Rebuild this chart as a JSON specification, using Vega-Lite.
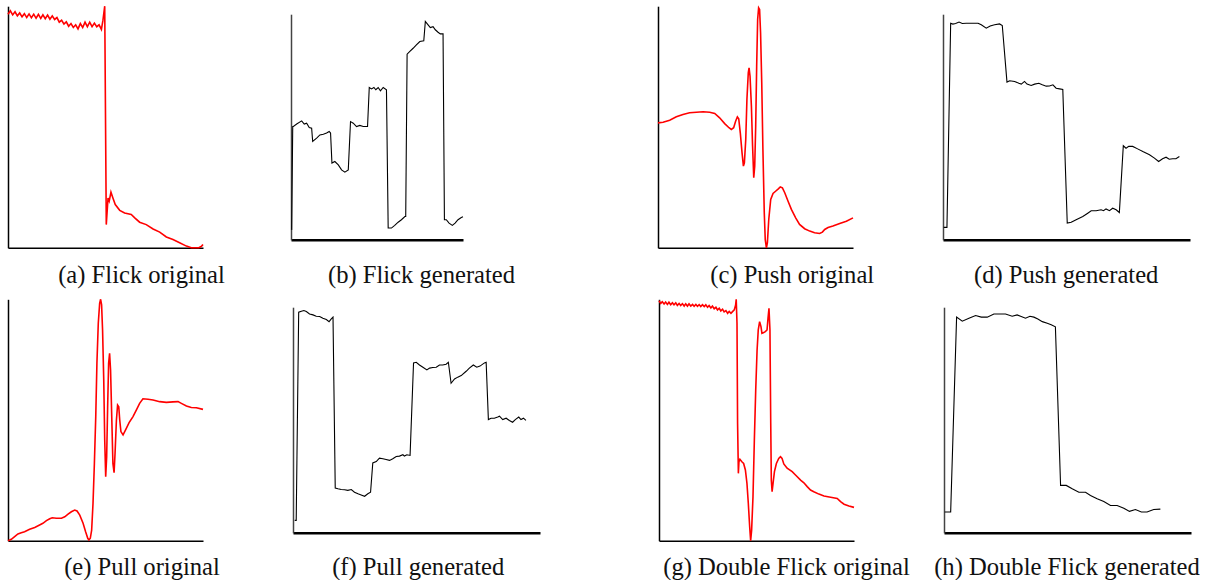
{
  "$schema": "https://vega.github.io/schema/vega-lite/v6.json",
  "padding": {"left": 4, "top": 3, "right": 0, "bottom": 0},
  "background": "white",
  "config": {
    "view": {"stroke": null},
    "axis": {
      "ticks": false, "labels": false, "grid": false,
      "domainColor": "#000000", "domainWidth": 1.5,
      "titleFont": "Liberation Serif", "titleFontSize": 24.6, "titleFontWeight": "normal",
      "titleColor": "#111111", "titleAlign": "center", "titleBaseline": "alphabetic", "titlePadding": 0
    }
  },
  "datasets": {
    "a": [{"t":0,"v":96.7},{"t":1.2,"v":98.1},{"t":2.4,"v":96.4},{"t":3.6,"v":97.7},{"t":4.8,"v":96.0},{"t":6.0,"v":97.2},{"t":7.2,"v":95.6},{"t":8.4,"v":96.9},{"t":9.6,"v":95.3},{"t":10.8,"v":96.8},{"t":12.0,"v":95.2},{"t":13.2,"v":96.7},{"t":14.4,"v":95.0},{"t":15.6,"v":96.6},{"t":16.8,"v":94.9},{"t":17.9,"v":96.4},{"t":19.1,"v":94.8},{"t":20.3,"v":96.3},{"t":21.5,"v":94.6},{"t":22.7,"v":96.0},{"t":23.9,"v":94.5},{"t":25.1,"v":95.3},{"t":26.3,"v":93.4},{"t":27.5,"v":94.2},{"t":28.7,"v":92.6},{"t":29.9,"v":93.5},{"t":31.1,"v":91.7},{"t":32.3,"v":92.8},{"t":33.5,"v":91.2},{"t":34.7,"v":92.3},{"t":35.9,"v":90.6},{"t":37.1,"v":92.8},{"t":38.3,"v":91.2},{"t":39.5,"v":93.4},{"t":40.7,"v":91.5},{"t":41.9,"v":93.4},{"t":43.1,"v":91.5},{"t":44.3,"v":93.0},{"t":45.5,"v":91.5},{"t":46.7,"v":92.3},{"t":47.9,"v":90.4},{"t":48.7,"v":94.2},{"t":49.6,"v":100},{"t":50.4,"v":9.6},{"t":51.3,"v":20.6},{"t":51.9,"v":19.3},{"t":52.8,"v":23.0},{"t":53.8,"v":20.6},{"t":55.0,"v":17.9},{"t":57.3,"v":15.5},{"t":59.8,"v":14.4},{"t":63.2,"v":13.8},{"t":65.0,"v":12.4},{"t":67.5,"v":10.6},{"t":70.9,"v":9.6},{"t":74.4,"v":7.8},{"t":77.8,"v":6.5},{"t":81.2,"v":4.5},{"t":84.6,"v":3.4},{"t":88.0,"v":2.1},{"t":91.5,"v":0.7},{"t":94.0,"v":0},{"t":97.9,"v":0},{"t":99.3,"v":0.7},{"t":100,"v":1.4}],
    "b": [{"t":0.4,"v":4.4},{"t":1.0,"v":50.2},{"t":1.4,"v":50.2},{"t":3.3,"v":51.3},{"t":6.2,"v":52.7},{"t":7.7,"v":51.3},{"t":9.1,"v":51.7},{"t":10.6,"v":49.8},{"t":12.0,"v":49.5},{"t":12.6,"v":43.6},{"t":14.9,"v":45.1},{"t":16.8,"v":46.5},{"t":18.8,"v":46.8},{"t":20.7,"v":47.3},{"t":22.2,"v":48.0},{"t":23.0,"v":47.3},{"t":23.8,"v":34.0},{"t":25.5,"v":34.7},{"t":27.5,"v":33.2},{"t":29.4,"v":31.0},{"t":31.3,"v":30.0},{"t":33.3,"v":31.0},{"t":34.6,"v":52.4},{"t":36.2,"v":51.7},{"t":38.1,"v":50.2},{"t":40.0,"v":50.7},{"t":42.0,"v":50.2},{"t":44.5,"v":50.2},{"t":45.5,"v":67.5},{"t":46.8,"v":66.9},{"t":48.2,"v":67.5},{"t":49.3,"v":66.5},{"t":50.7,"v":67.5},{"t":52.0,"v":66.0},{"t":53.6,"v":67.5},{"t":55.5,"v":66.5},{"t":56.5,"v":5.2},{"t":58.4,"v":5.2},{"t":60.3,"v":6.4},{"t":62.3,"v":7.8},{"t":64.2,"v":8.9},{"t":66.2,"v":10.3},{"t":66.7,"v":10.3},{"t":67.5,"v":82.3},{"t":69.1,"v":83.5},{"t":71.0,"v":84.9},{"t":72.9,"v":86.4},{"t":74.9,"v":87.9},{"t":77.2,"v":88.2},{"t":78.1,"v":96.8},{"t":79.7,"v":95.3},{"t":81.0,"v":94.1},{"t":82.6,"v":94.5},{"t":83.9,"v":93.1},{"t":85.5,"v":92.0},{"t":86.8,"v":91.3},{"t":88.4,"v":91.3},{"t":89.2,"v":8.9},{"t":90.3,"v":8.9},{"t":91.9,"v":7.4},{"t":93.8,"v":6.4},{"t":95.4,"v":7.4},{"t":97.1,"v":8.9},{"t":99.0,"v":9.9},{"t":100,"v":10.2}],
    "c": [{"t":0,"v":51.7},{"t":2.6,"v":52.0},{"t":6.0,"v":52.8},{"t":9.4,"v":54.2},{"t":12.8,"v":55.2},{"t":16.2,"v":55.9},{"t":19.7,"v":56.1},{"t":23.1,"v":56.3},{"t":26.5,"v":56.1},{"t":29.1,"v":55.6},{"t":31.6,"v":53.8},{"t":34.2,"v":51.4},{"t":36.4,"v":49.7},{"t":37.6,"v":49.0},{"t":38.8,"v":49.7},{"t":39.8,"v":52.4},{"t":40.7,"v":54.2},{"t":41.4,"v":53.4},{"t":42.2,"v":47.6},{"t":43.1,"v":39.3},{"t":43.8,"v":33.8},{"t":44.3,"v":35.2},{"t":45.0,"v":44.8},{"t":45.6,"v":61.4},{"t":46.3,"v":72.4},{"t":46.7,"v":74.5},{"t":47.2,"v":71.0},{"t":47.9,"v":58.6},{"t":48.5,"v":42.1},{"t":49.1,"v":29.0},{"t":49.6,"v":33.8},{"t":50.1,"v":50.3},{"t":50.6,"v":75.2},{"t":51.1,"v":94.5},{"t":51.6,"v":99.3},{"t":52.1,"v":98.6},{"t":52.6,"v":89.0},{"t":53.2,"v":68.3},{"t":53.8,"v":40.7},{"t":54.5,"v":14.5},{"t":55.0,"v":3.4},{"t":55.6,"v":0},{"t":56.1,"v":2.1},{"t":56.8,"v":11.7},{"t":57.8,"v":20.0},{"t":59.0,"v":22.5},{"t":60.3,"v":23.4},{"t":61.7,"v":24.4},{"t":62.7,"v":25.2},{"t":63.8,"v":24.8},{"t":65.0,"v":22.8},{"t":66.7,"v":19.3},{"t":68.4,"v":15.9},{"t":70.6,"v":12.4},{"t":72.6,"v":9.7},{"t":75.2,"v":7.9},{"t":77.8,"v":6.9},{"t":80.3,"v":6.2},{"t":82.9,"v":5.9},{"t":84.3,"v":6.5},{"t":85.5,"v":7.6},{"t":87.2,"v":8.4},{"t":89.7,"v":9.0},{"t":93.2,"v":10.1},{"t":96.6,"v":11.0},{"t":100,"v":12.4}],
    "d": [{"t":0.3,"v":5.5},{"t":1.6,"v":5.5},{"t":3.1,"v":96.0},{"t":4.0,"v":95.6},{"t":5.1,"v":95.9},{"t":6.5,"v":96.5},{"t":7.8,"v":95.9},{"t":9.4,"v":96.0},{"t":12.1,"v":96.0},{"t":14.2,"v":96.0},{"t":15.5,"v":95.3},{"t":17.5,"v":93.8},{"t":19.1,"v":94.8},{"t":20.9,"v":95.3},{"t":22.9,"v":95.7},{"t":24.0,"v":95.0},{"t":25.9,"v":69.9},{"t":27.0,"v":70.5},{"t":29.0,"v":70.2},{"t":30.7,"v":69.4},{"t":31.7,"v":69.0},{"t":33.0,"v":70.2},{"t":34.0,"v":69.0},{"t":35.7,"v":68.4},{"t":37.1,"v":69.0},{"t":38.8,"v":69.4},{"t":40.2,"v":68.7},{"t":41.8,"v":68.1},{"t":43.1,"v":68.2},{"t":44.5,"v":68.7},{"t":45.8,"v":67.2},{"t":47.2,"v":66.9},{"t":48.5,"v":66.6},{"t":50.3,"v":7.4},{"t":51.9,"v":7.8},{"t":53.9,"v":8.9},{"t":56.6,"v":10.3},{"t":58.6,"v":11.8},{"t":60.0,"v":12.9},{"t":62.0,"v":12.9},{"t":64.0,"v":13.3},{"t":65.0,"v":12.9},{"t":66.0,"v":13.7},{"t":67.4,"v":12.9},{"t":68.7,"v":14.0},{"t":70.1,"v":13.3},{"t":71.4,"v":12.1},{"t":73.0,"v":41.7},{"t":74.1,"v":40.6},{"t":75.2,"v":41.4},{"t":76.8,"v":41.4},{"t":78.8,"v":40.3},{"t":80.9,"v":39.1},{"t":83.6,"v":37.7},{"t":85.6,"v":36.2},{"t":87.3,"v":34.7},{"t":88.9,"v":35.9},{"t":90.3,"v":36.6},{"t":91.6,"v":35.7},{"t":93.0,"v":35.9},{"t":94.3,"v":35.9},{"t":95.7,"v":36.9}],
    "e": [{"t":0,"v":0},{"t":1.7,"v":0.6},{"t":3.4,"v":1.7},{"t":5.1,"v":2.8},{"t":6.8,"v":3.3},{"t":8.5,"v":3.7},{"t":11.1,"v":4.7},{"t":13.7,"v":5.5},{"t":16.2,"v":6.5},{"t":17.9,"v":7.2},{"t":19.7,"v":8.3},{"t":21.4,"v":9.1},{"t":22.7,"v":9.5},{"t":24.8,"v":9.3},{"t":27.4,"v":9.3},{"t":29.1,"v":9.9},{"t":30.8,"v":11.0},{"t":32.5,"v":12.0},{"t":34.2,"v":12.7},{"t":35.4,"v":12.3},{"t":36.8,"v":10.6},{"t":38.5,"v":7.2},{"t":39.8,"v":3.7},{"t":40.9,"v":1.0},{"t":41.5,"v":0.3},{"t":42.2,"v":1.0},{"t":42.9,"v":4.4},{"t":43.6,"v":15.5},{"t":44.3,"v":32.0},{"t":45.0,"v":51.4},{"t":45.6,"v":73.5},{"t":46.3,"v":90.1},{"t":47.0,"v":98.3},{"t":47.5,"v":100},{"t":48.0,"v":97.7},{"t":48.5,"v":87.3},{"t":49.1,"v":66.6},{"t":49.6,"v":41.7},{"t":50.1,"v":26.5},{"t":50.6,"v":34.8},{"t":51.1,"v":55.5},{"t":51.6,"v":73.5},{"t":52.1,"v":77.6},{"t":52.6,"v":70.7},{"t":53.2,"v":51.4},{"t":53.8,"v":32.0},{"t":54.4,"v":28.2},{"t":54.9,"v":36.2},{"t":55.6,"v":50.0},{"t":56.2,"v":56.2},{"t":56.8,"v":55.5},{"t":57.3,"v":50.0},{"t":57.9,"v":45.2},{"t":59.0,"v":43.8},{"t":60.3,"v":45.9},{"t":62.1,"v":48.9},{"t":64.1,"v":51.4},{"t":65.8,"v":54.1},{"t":67.5,"v":56.9},{"t":69.2,"v":58.8},{"t":71.8,"v":58.6},{"t":74.4,"v":58.3},{"t":77.8,"v":57.6},{"t":81.2,"v":57.3},{"t":84.6,"v":57.5},{"t":87.2,"v":57.6},{"t":88.9,"v":56.9},{"t":91.5,"v":55.8},{"t":94.0,"v":55.2},{"t":96.6,"v":55.1},{"t":100,"v":54.4}],
    "f": [{"t":0.7,"v":5.5},{"t":1.3,"v":5.5},{"t":2.3,"v":97.8},{"t":3.4,"v":98.2},{"t":4.4,"v":98.5},{"t":5.4,"v":98.1},{"t":6.7,"v":97.0},{"t":8.1,"v":96.6},{"t":9.4,"v":96.0},{"t":10.8,"v":95.9},{"t":12.1,"v":95.1},{"t":13.5,"v":94.5},{"t":14.6,"v":93.6},{"t":15.5,"v":94.8},{"t":16.2,"v":95.6},{"t":17.1,"v":19.8},{"t":18.2,"v":19.5},{"t":19.5,"v":19.2},{"t":20.9,"v":19.1},{"t":22.2,"v":18.8},{"t":23.6,"v":19.2},{"t":24.9,"v":18.0},{"t":26.3,"v":17.3},{"t":27.6,"v":16.8},{"t":29.0,"v":16.2},{"t":30.3,"v":17.3},{"t":31.4,"v":18.0},{"t":32.3,"v":31.0},{"t":33.7,"v":31.6},{"t":35.0,"v":33.1},{"t":36.4,"v":32.8},{"t":37.7,"v":32.5},{"t":39.1,"v":32.1},{"t":40.4,"v":32.8},{"t":41.8,"v":33.8},{"t":43.1,"v":34.0},{"t":44.5,"v":34.6},{"t":45.1,"v":34.0},{"t":46.1,"v":34.6},{"t":47.4,"v":34.3},{"t":48.8,"v":75.3},{"t":49.9,"v":75.6},{"t":51.2,"v":74.4},{"t":52.6,"v":73.4},{"t":54.2,"v":72.2},{"t":55.3,"v":73.0},{"t":56.6,"v":73.3},{"t":58.0,"v":73.4},{"t":59.3,"v":74.4},{"t":60.6,"v":74.4},{"t":62.0,"v":74.7},{"t":62.9,"v":75.6},{"t":64.0,"v":66.3},{"t":65.4,"v":68.2},{"t":66.7,"v":69.0},{"t":68.1,"v":69.7},{"t":70.1,"v":71.6},{"t":71.4,"v":73.0},{"t":73.0,"v":74.4},{"t":74.4,"v":73.4},{"t":75.7,"v":73.9},{"t":77.5,"v":75.3},{"t":78.2,"v":75.6},{"t":79.1,"v":50.2},{"t":80.2,"v":50.8},{"t":81.5,"v":50.8},{"t":82.9,"v":51.3},{"t":83.6,"v":51.7},{"t":84.9,"v":50.2},{"t":86.3,"v":50.8},{"t":87.6,"v":49.8},{"t":88.9,"v":49.0},{"t":90.0,"v":50.2},{"t":91.4,"v":51.3},{"t":92.3,"v":50.2},{"t":93.3,"v":50.8},{"t":94.3,"v":49.8}],
    "g": [{"t":0,"v":99.4},{"t":0.9,"v":98.3},{"t":1.7,"v":99.0},{"t":2.6,"v":98.1},{"t":3.4,"v":98.9},{"t":4.3,"v":97.9},{"t":5.1,"v":98.8},{"t":6.0,"v":97.8},{"t":6.9,"v":98.6},{"t":7.7,"v":97.7},{"t":8.6,"v":98.5},{"t":9.4,"v":97.5},{"t":10.3,"v":98.3},{"t":11.1,"v":97.4},{"t":12.0,"v":98.2},{"t":12.9,"v":97.2},{"t":13.7,"v":98.1},{"t":14.6,"v":97.2},{"t":15.4,"v":98.1},{"t":16.3,"v":97.2},{"t":17.2,"v":97.9},{"t":18.0,"v":97.1},{"t":18.9,"v":97.9},{"t":19.7,"v":97.1},{"t":20.6,"v":97.8},{"t":21.4,"v":97.0},{"t":22.3,"v":97.8},{"t":23.2,"v":97.0},{"t":24.0,"v":97.7},{"t":24.9,"v":96.7},{"t":25.7,"v":97.4},{"t":26.6,"v":96.4},{"t":27.4,"v":97.2},{"t":28.3,"v":96.1},{"t":29.2,"v":96.7},{"t":30.0,"v":95.6},{"t":30.9,"v":96.3},{"t":31.7,"v":95.2},{"t":32.6,"v":95.9},{"t":33.4,"v":94.8},{"t":34.3,"v":95.3},{"t":35.2,"v":94.2},{"t":36.0,"v":95.0},{"t":36.9,"v":94.2},{"t":37.7,"v":94.9},{"t":38.6,"v":95.6},{"t":39.3,"v":97.7},{"t":39.6,"v":100},{"t":40.0,"v":90.1},{"t":40.3,"v":48.6},{"t":40.7,"v":27.9},{"t":41.0,"v":32.7},{"t":41.5,"v":33.7},{"t":42.5,"v":32.7},{"t":43.4,"v":32.0},{"t":44.3,"v":29.3},{"t":45.1,"v":23.8},{"t":45.8,"v":15.5},{"t":46.5,"v":5.8},{"t":47.0,"v":0},{"t":47.5,"v":4.4},{"t":48.2,"v":18.2},{"t":48.9,"v":41.7},{"t":49.6,"v":62.4},{"t":50.3,"v":79.0},{"t":50.9,"v":87.3},{"t":51.6,"v":90.7},{"t":52.3,"v":88.7},{"t":52.8,"v":85.9},{"t":53.7,"v":86.2},{"t":54.5,"v":86.6},{"t":55.4,"v":87.3},{"t":55.9,"v":92.1},{"t":56.4,"v":96.3},{"t":56.9,"v":87.3},{"t":57.3,"v":48.6},{"t":57.6,"v":25.1},{"t":58.0,"v":20.3},{"t":58.5,"v":23.8},{"t":59.2,"v":28.6},{"t":60.2,"v":32.0},{"t":61.4,"v":34.1},{"t":62.3,"v":34.8},{"t":63.1,"v":34.1},{"t":64.0,"v":31.8},{"t":65.7,"v":30.0},{"t":68.3,"v":28.6},{"t":70.0,"v":27.2},{"t":72.6,"v":25.1},{"t":74.3,"v":24.0},{"t":76.0,"v":22.4},{"t":77.7,"v":21.0},{"t":79.4,"v":20.3},{"t":82.0,"v":19.3},{"t":84.6,"v":18.5},{"t":88.0,"v":18.0},{"t":91.4,"v":17.5},{"t":93.1,"v":16.2},{"t":94.9,"v":15.1},{"t":97.4,"v":14.4},{"t":100,"v":13.8}],
    "h": [{"t":0.3,"v":9.2},{"t":2.7,"v":9.2},{"t":5.1,"v":95.6},{"t":7.4,"v":93.8},{"t":10.1,"v":95.1},{"t":12.8,"v":96.3},{"t":15.1,"v":95.6},{"t":17.5,"v":95.6},{"t":20.2,"v":97.0},{"t":22.9,"v":97.0},{"t":24.9,"v":97.0},{"t":27.6,"v":96.0},{"t":29.6,"v":96.6},{"t":31.0,"v":96.0},{"t":33.0,"v":95.1},{"t":34.8,"v":96.0},{"t":36.4,"v":95.6},{"t":38.0,"v":94.8},{"t":39.8,"v":93.6},{"t":41.8,"v":92.9},{"t":43.4,"v":92.2},{"t":45.1,"v":91.3},{"t":47.2,"v":21.0},{"t":49.5,"v":21.0},{"t":51.9,"v":19.5},{"t":54.6,"v":18.0},{"t":57.3,"v":18.0},{"t":59.3,"v":16.5},{"t":62.0,"v":15.1},{"t":64.7,"v":13.9},{"t":67.4,"v":12.1},{"t":70.1,"v":12.1},{"t":72.8,"v":10.9},{"t":75.1,"v":9.5},{"t":77.5,"v":10.3},{"t":79.9,"v":9.2},{"t":82.2,"v":9.2},{"t":84.9,"v":10.3},{"t":87.6,"v":10.5}],
    "blank": [{"k": 0}]
  },
  "spacing": 9,
  "vconcat": [
    {
      "spacing": 0, "bounds": "flush", "center": true,
      "hconcat": [
        {"width": 195, "height": 241.6, "data": {"name": "a"}, "mark": {"type": "line", "color": "#ff0000", "strokeWidth": 1.6},
         "encoding": {"x": {"field": "t", "type": "quantitative", "scale": {"domain": [0, 100], "nice": false, "zero": false}, "axis": {"title": "(a) Flick original", "titleX": 133, "titleY": 34.4}},
                      "y": {"field": "v", "type": "quantitative", "scale": {"domain": [0, 100], "nice": false, "zero": false}, "axis": {"title": null}}}},
        {"width": 87.7, "height": 10, "data": {"name": "blank"}, "mark": {"type": "point", "opacity": 0}, "encoding": {}},
        {"width": 172, "height": 225.6, "data": {"name": "b"}, "mark": {"type": "line", "color": "#000000", "strokeWidth": 1.1},
         "encoding": {"x": {"field": "t", "type": "quantitative", "scale": {"domain": [0, 100], "nice": false, "zero": false}, "axis": {"title": "(b) Flick generated", "titleX": 130, "titleY": 42.4, "domainWidth": 2.5}},
                      "y": {"field": "v", "type": "quantitative", "scale": {"domain": [0, 100], "nice": false, "zero": false}, "axis": {"title": null, "domainColor": "#444444"}}}},
        {"width": 195, "height": 10, "data": {"name": "blank"}, "mark": {"type": "point", "opacity": 0}, "encoding": {}},
        {"width": 195, "height": 241.6, "data": {"name": "c"}, "mark": {"type": "line", "color": "#ff0000", "strokeWidth": 1.6},
         "encoding": {"x": {"field": "t", "type": "quantitative", "scale": {"domain": [0, 100], "nice": false, "zero": false}, "axis": {"title": "(c) Push original", "titleX": 133.7, "titleY": 34.4}},
                      "y": {"field": "v", "type": "quantitative", "scale": {"domain": [0, 100], "nice": false, "zero": false}, "axis": {"title": null}}}},
        {"width": 90, "height": 10, "data": {"name": "blank"}, "mark": {"type": "point", "opacity": 0}, "encoding": {}},
        {"width": 247, "height": 225.6, "data": {"name": "d"}, "mark": {"type": "line", "color": "#000000", "strokeWidth": 1.1},
         "encoding": {"x": {"field": "t", "type": "quantitative", "scale": {"domain": [0, 100], "nice": false, "zero": false}, "axis": {"title": "(d) Push generated", "titleX": 122.7, "titleY": 42.4, "domainWidth": 2.5}},
                      "y": {"field": "v", "type": "quantitative", "scale": {"domain": [0, 100], "nice": false, "zero": false}, "axis": {"title": null, "domainColor": "#444444"}}}}
      ]
    },
    {
      "spacing": 0, "bounds": "flush", "center": true,
      "hconcat": [
        {"width": 195, "height": 241.4, "data": {"name": "e"}, "mark": {"type": "line", "color": "#ff0000", "strokeWidth": 1.6},
         "encoding": {"x": {"field": "t", "type": "quantitative", "scale": {"domain": [0, 100], "nice": false, "zero": false}, "axis": {"title": "(e) Pull original", "titleX": 133.5, "titleY": 34}},
                      "y": {"field": "v", "type": "quantitative", "scale": {"domain": [0, 100], "nice": false, "zero": false}, "axis": {"title": null}}}},
        {"width": 90, "height": 10, "data": {"name": "blank"}, "mark": {"type": "point", "opacity": 0}, "encoding": {}},
        {"width": 247, "height": 225.6, "data": {"name": "f"}, "mark": {"type": "line", "color": "#000000", "strokeWidth": 1.1},
         "encoding": {"x": {"field": "t", "type": "quantitative", "scale": {"domain": [0, 100], "nice": false, "zero": false}, "axis": {"title": "(f) Pull generated", "titleX": 124.7, "titleY": 42, "domainWidth": 2.5}},
                      "y": {"field": "v", "type": "quantitative", "scale": {"domain": [0, 100], "nice": false, "zero": false}, "axis": {"title": null, "domainColor": "#444444"}}}},
        {"width": 118.7, "height": 10, "data": {"name": "blank"}, "mark": {"type": "point", "opacity": 0}, "encoding": {}},
        {"width": 195, "height": 241.4, "data": {"name": "g"}, "mark": {"type": "line", "color": "#ff0000", "strokeWidth": 1.6},
         "encoding": {"x": {"field": "t", "type": "quantitative", "scale": {"domain": [0, 100], "nice": false, "zero": false}, "axis": {"title": "(g) Double Flick original", "titleX": 127, "titleY": 34}},
                      "y": {"field": "v", "type": "quantitative", "scale": {"domain": [0, 100], "nice": false, "zero": false}, "axis": {"title": null}}}},
        {"width": 89.3, "height": 10, "data": {"name": "blank"}, "mark": {"type": "point", "opacity": 0}, "encoding": {}},
        {"width": 247, "height": 225.6, "data": {"name": "h"}, "mark": {"type": "line", "color": "#000000", "strokeWidth": 1.1},
         "encoding": {"x": {"field": "t", "type": "quantitative", "scale": {"domain": [0, 100], "nice": false, "zero": false}, "axis": {"title": "(h) Double Flick generated", "titleX": 122.5, "titleY": 42, "domainWidth": 2.5}},
                      "y": {"field": "v", "type": "quantitative", "scale": {"domain": [0, 100], "nice": false, "zero": false}, "axis": {"title": null, "domainColor": "#444444"}}}}
      ]
    }
  ]
}
